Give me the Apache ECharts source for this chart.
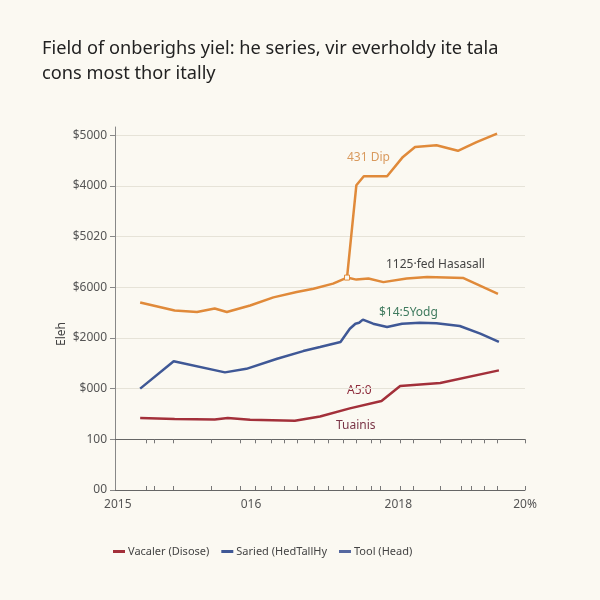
<!DOCTYPE html>
<html><head><meta charset="utf-8">
<script src="https://cdn.jsdelivr.net/npm/echarts@6/dist/echarts.min.js"></script>
<style>html,body{margin:0;padding:0;background:#fbf9f2}#c{width:600px;height:600px}</style>
</head><body><div id="c"></div>
<script>
// y tick labels (axis index -1..6)
const yTickValues = [-1, 0, 1, 2, 3, 4, 5, 6];
const yTickLabels = ['00', '100', '$000', '$2000', '$6000', '$5020', '$4000', '$5000'];
// x labels
const xLabelValues = [2014.98, 2016.41, 2017.99, 2019.35];
const xLabelTexts = ['2015', '016', '2018', '20%'];
const xTickValues = [2015.29, 2015.37, 2015.58, 2015.98, 2016.29, 2016.45, 2016.63, 2016.77, 2016.91, 2017.09, 2017.24, 2017.40, 2017.54, 2017.705, 2017.80, 2018.01, 2018.15, 2018.445, 2018.67, 2018.77, 2018.91, 2019.05, 2019.35];

// Red series
const redX = [2015.22, 2015.59, 2016.02, 2016.16, 2016.40, 2016.88, 2017.15, 2017.47, 2017.81, 2018.01, 2018.44, 2019.07];
const redY = [0.42, 0.40, 0.39, 0.42, 0.385, 0.365, 0.45, 0.61, 0.755, 1.05, 1.11, 1.36];
// Blue series
const blueX = [2015.22, 2015.58, 2016.13, 2016.36, 2016.69, 2016.97, 2017.15, 2017.37, 2017.47, 2017.53, 2017.57, 2017.61, 2017.72, 2017.87, 2018.03, 2018.22, 2018.40, 2018.65, 2018.87, 2019.07];
const blueY = [1.0, 1.54, 1.32, 1.39, 1.59, 1.74, 1.82, 1.92, 2.18, 2.28, 2.30, 2.36, 2.28, 2.215, 2.28, 2.30, 2.29, 2.235, 2.085, 1.92];
// Orange main series
const orangeX = [2015.22, 2015.59, 2015.83, 2016.02, 2016.15, 2016.40, 2016.65, 2016.90, 2017.08, 2017.29, 2017.44, 2017.54, 2017.62, 2017.87, 2018.04, 2018.17, 2018.40, 2018.63, 2018.83, 2019.05];
const orangeY = [2.70, 2.54, 2.51, 2.58, 2.51, 2.64, 2.80, 2.905, 2.97, 3.07, 3.19, 5.01, 5.19, 5.19, 5.57, 5.765, 5.80, 5.69, 5.86, 6.03];
// Orange lower branch
const branchX = [2017.44, 2017.54, 2017.67, 2017.83, 2018.08, 2018.30, 2018.69, 2019.06];
const branchY = [3.19, 3.15, 3.17, 3.10, 3.17, 3.20, 3.18, 2.87];

const seriesNames = ['Vacaler (Disose)', 'Saried (HedTallHy', 'Tool (Head)'];
const zip = (a, b) => a.map((v, i) => [v, b[i]]);

const FONT = 'Noto Sans';
const chart = echarts.init(document.getElementById('c'), null, {renderer: 'canvas'});
const xBase = {
  type: 'value', min: 2014.95, max: 2019.35,
  splitLine: {show: false},
};
chart.setOption({
  backgroundColor: '#fbf9f2',
  animation: false,
  textStyle: {fontFamily: FONT},
  title: {
    text: 'Field of onberighs yiel: he series, vir everholdy ite tala\ncons most thor itally',
    left: 37, top: 31,
    textStyle: {fontSize: 18.2, fontWeight: 'normal', color: '#222', lineHeight: 25, fontFamily: FONT}
  },
  grid: {left: 115, right: 75, top: 127, bottom: 110},
  legend: {
    left: 108, top: 541,
    icon: 'rect', itemWidth: 12, itemHeight: 3, itemGap: 12,
    textStyle: {fontSize: 11, color: '#444', fontFamily: FONT, padding: [0, 0, 0, -2]},
    data: [
      {name: seriesNames[0]},
      {name: seriesNames[1]},
      {name: seriesNames[2], itemStyle: {color: '#5568a0'}, lineStyle: {color: '#5568a0'}}
    ]
  },
  xAxis: [
    Object.assign({}, xBase, {
      axisLine: {onZero: true, lineStyle: {color: '#666', width: 1}},
      axisTick: {show: true, customValues: xTickValues, length: 4, lineStyle: {color: '#777'}},
      axisLabel: {show: false}
    }),
    Object.assign({}, xBase, {
      position: 'bottom',
      axisLine: {onZero: false, lineStyle: {color: '#666', width: 1}},
      axisTick: {show: true, inside: true, customValues: xTickValues, length: 4, lineStyle: {color: '#777'}},
      axisLabel: {show: true, customValues: xLabelValues, formatter: v => {
        const i = xLabelValues.findIndex(x => Math.abs(x - v) < 1e-6);
        return i >= 0 ? xLabelTexts[i] : '';
      }, color: '#555', fontSize: 12, margin: 9, fontFamily: FONT}
    })
  ],
  yAxis: {
    type: 'value', min: -1, max: 6.16,
    axisLine: {show: true, onZero: false, lineStyle: {color: '#888'}},
    axisTick: {show: true, customValues: yTickValues, length: 5, lineStyle: {color: '#888'}},
    axisLabel: {customValues: yTickValues, formatter: v => {
      const i = yTickValues.indexOf(Math.round(v));
      return i >= 0 ? yTickLabels[i] : '';
    }, color: '#555', fontSize: 12, margin: 8, fontFamily: FONT},
    splitLine: {show: true, customValues: yTickValues, lineStyle: {color: '#e6e3d8', width: 1}}
  },
  series: [
    {name: seriesNames[0], type: 'line', data: zip(redX, redY), showSymbol: false, symbol: 'none',
      lineStyle: {color: '#a3303a', width: 2.5}, itemStyle: {color: '#a3303a'}},
    {name: seriesNames[1], type: 'line', data: zip(blueX, blueY), showSymbol: false, symbol: 'none',
      lineStyle: {color: '#3f5896', width: 2.5}, itemStyle: {color: '#3f5896'}},
    {name: seriesNames[2], type: 'line', data: zip(orangeX, orangeY).map((p, i) => i === 10 ? {value: p, symbol: 'rect', symbolSize: 5, itemStyle: {color: '#fbf9f2', borderColor: '#e08a3a', borderWidth: 1}} : p),
      showSymbol: true, symbol: 'none',
      lineStyle: {color: '#e08a3a', width: 2.5}, itemStyle: {color: '#e08a3a'}},
    {name: 'branch', type: 'line', data: zip(branchX, branchY), showSymbol: false, symbol: 'none',
      lineStyle: {color: '#e08a3a', width: 2.5}, itemStyle: {color: '#e08a3a'}}
  ],
  graphic: [
    {type: 'text', left: 56, top: 322, rotation: Math.PI / 2, style: {text: 'Eleh', fontSize: 12, fill: '#444', fontFamily: FONT}},
    {type: 'text', left: 347, top: 152, style: {text: '431 Dip', fontSize: 12, fill: '#d99a5e', fontFamily: FONT}},
    {type: 'text', left: 386, top: 259, style: {text: '1125·fed Hasasall', fontSize: 12, fill: '#444', fontFamily: FONT}},
    {type: 'text', left: 379, top: 307, style: {text: '$14:5Yodg', fontSize: 12, fill: '#3f7a5e', fontFamily: FONT}},
    {type: 'text', left: 347, top: 385, style: {text: 'A5:0', fontSize: 12, fill: '#8e2c3c', fontFamily: FONT}},
    {type: 'text', left: 336, top: 420, style: {text: 'Tuainis', fontSize: 12, fill: '#7a3446', fontFamily: FONT}}
  ]
});
</script></body></html>
